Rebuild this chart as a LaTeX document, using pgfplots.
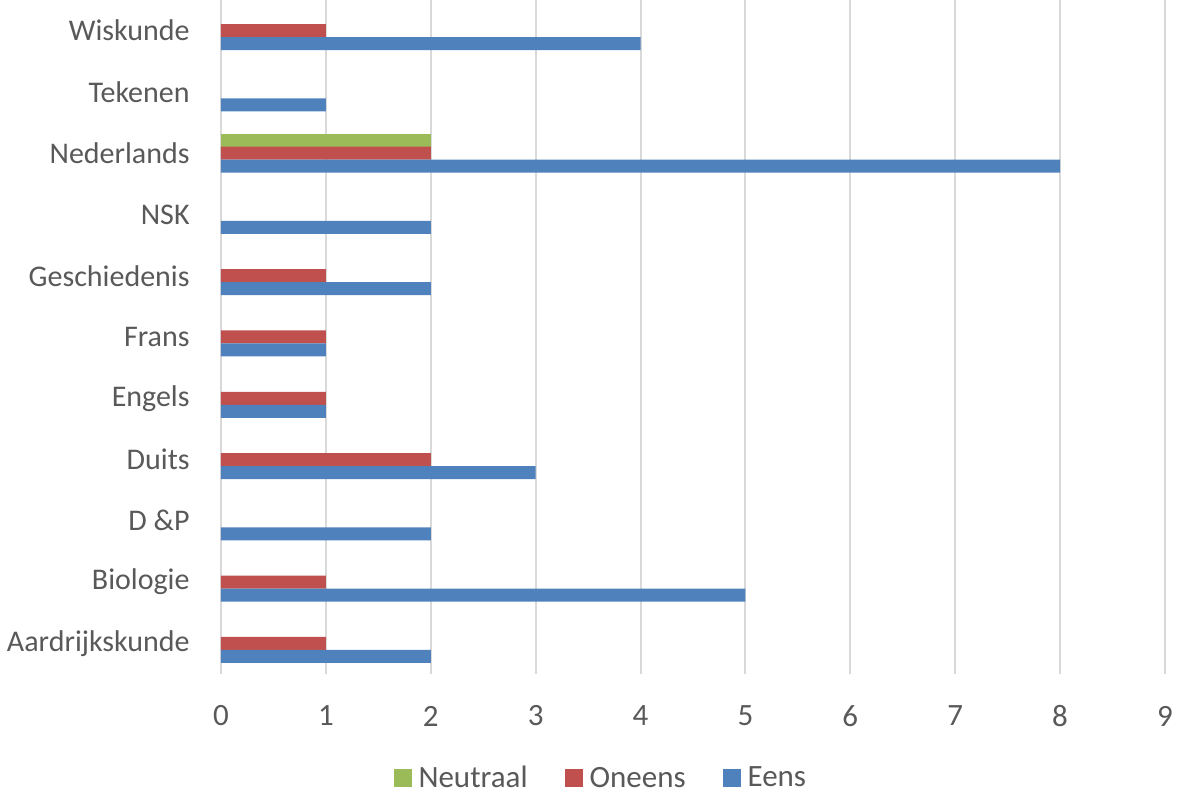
\documentclass[border=0pt]{standalone}
\usepackage{fontspec}
\setmainfont{Carlito}
\usepackage{pgfplots}
\pgfplotsset{compat=1.18}
\definecolor{cblue}{HTML}{4F81BD}
\definecolor{cred}{HTML}{C0504D}
\definecolor{cgreen}{HTML}{9BBB59}
\definecolor{ctext}{HTML}{595959}
\definecolor{cgrid}{HTML}{D9D9D9}
\begin{document}
\begin{tikzpicture}
\useasboundingbox (0,0) rectangle (591.5pt,398pt);
\begin{axis}[
  at={(110.5pt,61pt)}, anchor=south west,
  scale only axis,
  width=472pt, height=337pt,
  xbar, bar width=6.5pt,
  xmin=0, xmax=9,
  ymin=-0.5, ymax=10.5,
  xtick={0,...,9},
  ytick={0,...,10},
  yticklabels={Aardrijkskunde,Biologie,D \&P,Duits,Engels,Frans,Geschiedenis,NSK,Nederlands,Tekenen,Wiskunde},
  xmajorgrids, major grid style={cgrid, line width=1pt},
  axis line style={draw=none},
  major tick length=0pt,
  tick label style={font=\fontsize{15.5}{18}\selectfont, text=ctext},
  /pgf/number format/assume math mode=true,
  yticklabel style={anchor=east, inner sep=0pt, xshift=-15.5pt, font=\fontsize{15}{18}\selectfont},
  xticklabel style={anchor=center, inner sep=0pt, yshift=-21pt},
  legend style={at={(axis description cs:0.405,-0.155)}, anchor=center, draw=none,
    legend columns=3, font=\fontsize{15.5}{18}\selectfont, text=ctext,
    /tikz/every even column/.append style={column sep=15pt},
    nodes={inner xsep=3.5pt}},
  legend cell align=left,
  legend image code/.code={\fill[#1] (0pt,-4.5pt) rectangle (9pt,4.5pt);},
]
\addplot[fill=cgreen, draw=none, bar shift=6.5pt] coordinates {(2,8)};
\addplot[fill=cred, draw=none, bar shift=0pt] coordinates {(1,0) (1,1) (2,3) (1,4) (1,5) (1,6) (2,8) (1,10)};
\addplot[fill=cblue, draw=none, bar shift=-6.5pt] coordinates {(2,0) (5,1) (2,2) (3,3) (1,4) (1,5) (2,6) (2,7) (8,8) (1,9) (4,10)};
\legend{Neutraal,Oneens,Eens}
\end{axis}
\end{tikzpicture}
\end{document}
